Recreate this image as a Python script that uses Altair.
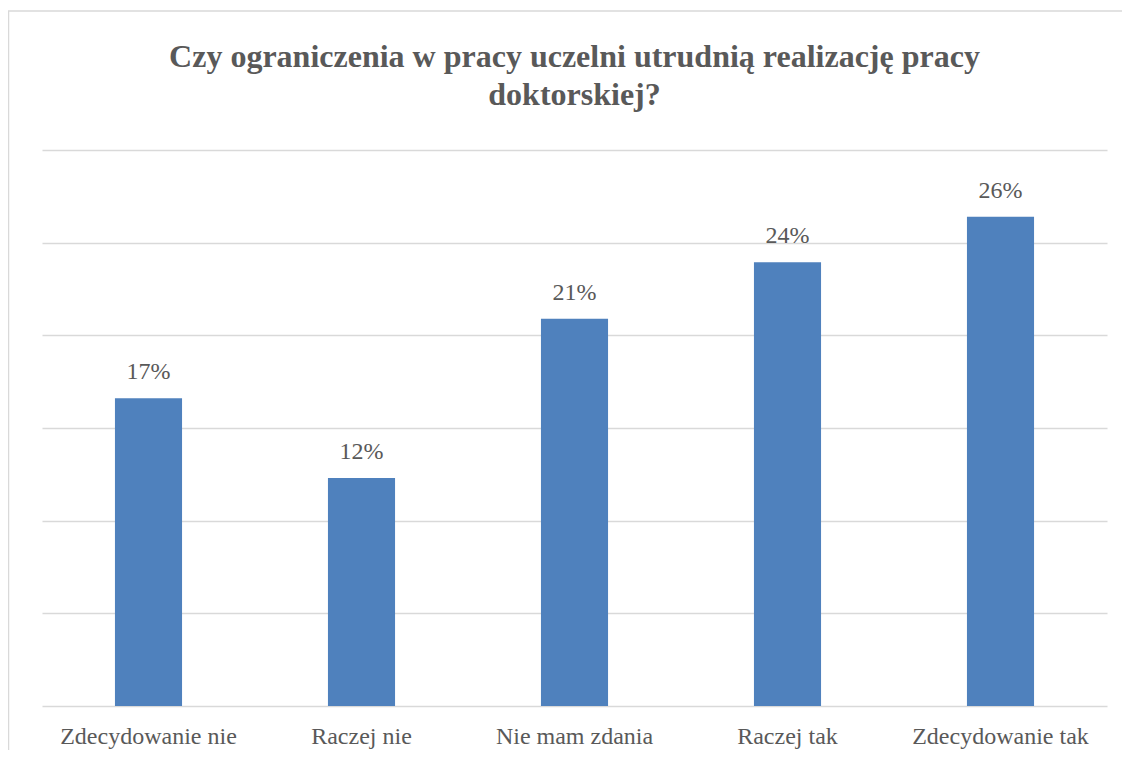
import altair as alt
import pandas as pd

categories = ["Zdecydowanie nie", "Raczej nie", "Nie mam zdania", "Raczej tak", "Zdecydowanie tak"]
values = [0.166, 0.123, 0.209, 0.2395, 0.264]

df = pd.DataFrame({"cat": categories, "val": values})

W, H = 1065, 556
FONT = "Liberation Serif"
GRAY = "#595959"

x_enc = alt.X("cat:N", sort=categories,
              scale=alt.Scale(paddingInner=0.685, paddingOuter=0.3425),
              axis=alt.Axis(title=None, labelFont=FONT, labelFontSize=24, labelColor=GRAY,
                            ticks=False, domain=False, labelPadding=18, labelAngle=0, labelLimit=0))
y_enc = alt.Y("val:Q", scale=alt.Scale(domain=[0, 0.30]),
              axis=alt.Axis(title=None, labels=False, ticks=False, domain=False,
                            values=[0, 0.05, 0.10, 0.15, 0.20, 0.25, 0.30],
                            grid=True, gridColor="#d9d9d9", gridWidth=1.5))

bars = alt.Chart(df).mark_bar(color="#4f81bd").encode(x=x_enc, y=y_enc)

labels = alt.Chart(df).mark_text(font=FONT, fontSize=24, color=GRAY, dy=-19,
                                 baseline="alphabetic").encode(
    x=alt.X("cat:N", sort=categories), y="val:Q", text=alt.Text("val:Q", format=".0%"))

border = alt.Chart(pd.DataFrame({"a": [0]})).mark_rect(
    fill=None, stroke="#d9d9d9", strokeWidth=1.5, clip=False).encode(
    x=alt.value(-33.5), x2=alt.value(W + 200), y=alt.value(-139), y2=alt.value(H + 200))

chart = alt.layer(border, bars, labels).properties(
    width=W, height=H,
    autosize=alt.AutoSizeParams(type="none"),
    padding={"left": 34, "top": 142, "right": 15, "bottom": 44},
    title=alt.TitleParams(
        text=["Czy ograniczenia w pracy uczelni utrudnią realizację pracy", "doktorskiej?"],
        font=FONT, fontSize=32, fontWeight="bold", color=GRAY, anchor="middle",
        lineHeight=38, offset=-102)
).configure_view(stroke=None)

chart.save("out.html", embed_options={"renderer": "svg", "actions": False})
